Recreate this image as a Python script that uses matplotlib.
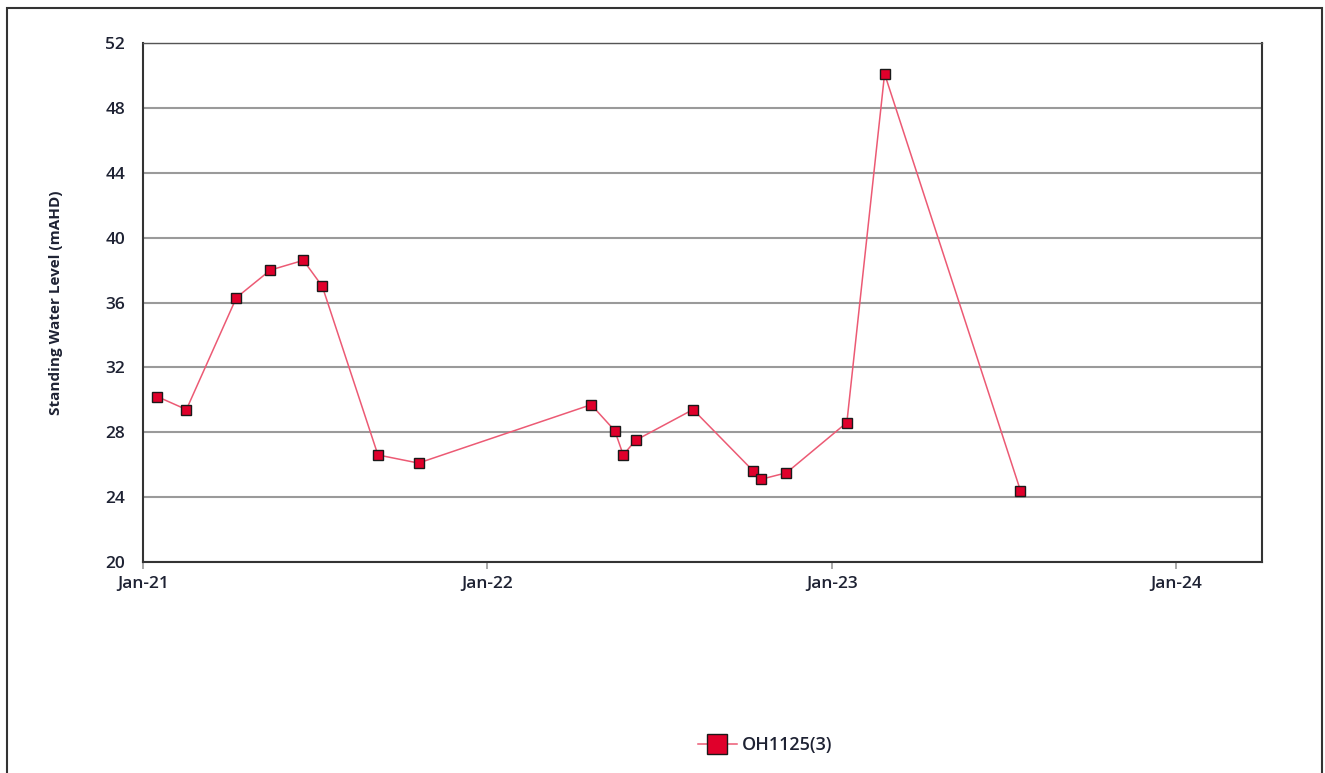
import matplotlib
matplotlib.use("Agg")
import matplotlib.pyplot as plt
from matplotlib.patches import Rectangle
import pandas as pd

dates = ["2021-01-16", "2021-02-16", "2021-04-10", "2021-05-16", "2021-06-20",
         "2021-07-10", "2021-09-07", "2021-10-20", "2022-04-21", "2022-05-16",
         "2022-05-25", "2022-06-07", "2022-08-07", "2022-10-10", "2022-10-18",
         "2022-11-14", "2023-01-17", "2023-02-26", "2023-07-20"]
levels = [30.2, 29.4, 36.3, 38.0, 38.6, 37.0, 26.6, 26.1, 29.7, 28.1,
          26.6, 27.5, 29.4, 25.6, 25.1, 25.5, 28.6, 50.1, 24.4]
series_name = "OH1125(3)"
y_ticks = [20, 24, 28, 32, 36, 40, 44, 48, 52]
x_ticks = ["2021-01-01", "2022-01-01", "2023-01-01", "2024-01-01"]
x_tick_labels = ["Jan-21", "Jan-22", "Jan-23", "Jan-24"]
y_label = "Standing Water Level (mAHD)"

plt.rcParams['font.family'] = ['Open Sans', 'DejaVu Sans']

fig = plt.figure(figsize=(13.25, 7.73), dpi=100)
# outer frame
fig.patches.append(Rectangle((7/1325, -0.05), (1322-7)/1325, 1 - 8/773 + 0.05,
                             transform=fig.transFigure, fill=False,
                             edgecolor="#333333", linewidth=1.5))

ax = fig.add_axes([143/1325, 1 - 562/773, (1262-143)/1325, (562-43)/773])
x = pd.to_datetime(dates)
line, = ax.plot(x, levels, color="#ec5a74", linewidth=1.1, marker="s",
                markersize=6.5, markerfacecolor="#e0002b", markeredgecolor="#1a1a1a",
                markeredgewidth=1.0, label=series_name, zorder=3)

ax.set_ylim(20, 52)
ax.set_yticks(y_ticks)
ax.set_xlim(pd.Timestamp("2021-01-01"), pd.Timestamp("2024-04-01"))
ax.set_xticks(pd.to_datetime(x_ticks))
ax.set_xticklabels(x_tick_labels)

ax.yaxis.grid(True, color="#9a9a9a", linewidth=1.5)
ax.set_axisbelow(True)
for s in ["left", "bottom", "right"]:
    ax.spines[s].set_color("#333333")
    ax.spines[s].set_linewidth(1.5)
ax.spines["top"].set_color("#555555")
ax.spines["top"].set_linewidth(1.0)

ax.tick_params(axis="y", length=0, pad=13, labelsize=12.5, labelcolor="#1e2233")
ax.tick_params(axis="x", length=5, color="#999999", width=1.2, pad=5,
               labelsize=12.5, labelcolor="#1e2233")
for lab in ax.get_xticklabels() + ax.get_yticklabels():
    lab.set_fontweight("semibold")

ax.set_ylabel(y_label, fontsize=11, fontweight="bold", color="#1e2233", labelpad=30)

leg = fig.legend(handles=[line], labels=[series_name], loc="center",
                 bbox_to_anchor=(765/1325, 1 - 745/773), frameon=False,
                 prop={"size": 13, "weight": "semibold"}, markerscale=2.2,
                 handlelength=2.2, handletextpad=0.25, labelcolor="#1e2233")

fig.savefig("out.png", dpi=100)
